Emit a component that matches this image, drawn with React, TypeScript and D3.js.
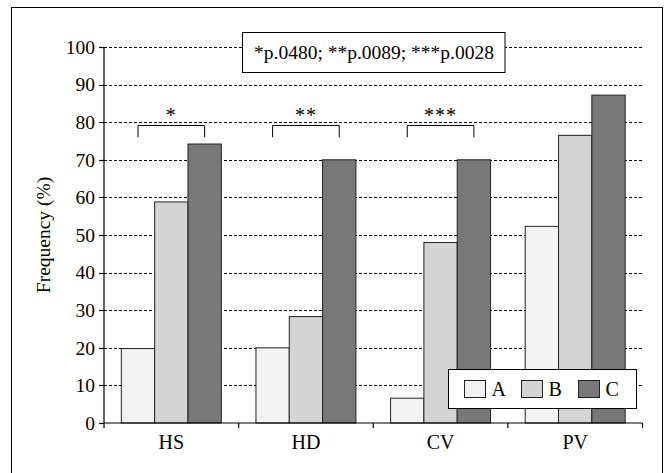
import React from "react";
import * as d3 from "d3";

const categories = ["HS", "HD", "CV", "PV"];
const seriesNames = ["A", "B", "C"];
const seriesA = [19.8, 20.0, 6.6, 52.3];
const seriesB = [58.8, 28.3, 48.0, 76.5];
const seriesC = [74.2, 70.0, 70.0, 87.2];
const yTicks = [0, 10, 20, 30, 40, 50, 60, 70, 80, 90, 100];
const colors = ["#f2f2f2", "#d4d4d4", "#787878"];
const brackets = [
  { cat: "HS", label: "*" },
  { cat: "HD", label: "**" },
  { cat: "CV", label: "***" },
];
const annotation = "*p.0480; **p.0089; ***p.0028";

const W = 666;
const H = 473;
const left = 104;
const right = 642.5;
const top = 47;
const bottom = 423;
const font = "'Liberation Serif', Tinos, 'Times New Roman', Times, 'DejaVu Serif', serif";

export default function App() {
  const x = d3.scaleBand<string>().domain(categories).range([left, right]).paddingInner(0).paddingOuter(0);
  const inner = d3.scaleBand<string>().domain(seriesNames).range([0, x.bandwidth()]).paddingInner(0).paddingOuter(0.52);
  const y = d3.scaleLinear().domain([0, 100]).range([bottom, top]);
  const series = [seriesA, seriesB, seriesC];
  const txt = { fontFamily: font };

  return (
    <svg width={W} height={H} style={{ position: "absolute", left: 0, top: 0, display: "block", fontFamily: font }}>
      <rect x={0} y={0} width={W} height={H} fill="#fff" />
      <rect x={11.5} y={7.5} width={651} height={480} fill="none" stroke="#000" strokeWidth={1} />
      {yTicks.filter((t) => t > 0).map((t) => (
        <line key={"g" + t} x1={left} x2={right} y1={Math.round(y(t)) + 0.5} y2={Math.round(y(t)) + 0.5}
          stroke="#000" strokeWidth={1} strokeDasharray="3,2" />
      ))}
      {categories.map((c, ci) => (
        <g key={c}>
          {series.map((s, si) => (
            <rect key={si}
              x={(x(c) as number) + (inner(seriesNames[si]) as number)}
              y={y(s[ci])}
              width={inner.bandwidth()}
              height={bottom - y(s[ci])}
              fill={colors[si]} stroke="#222" strokeWidth={1} />
          ))}
        </g>
      ))}
      <line x1={left} x2={left} y1={top} y2={bottom} stroke="#000" strokeWidth={1.2} />
      {yTicks.map((t) => (
        <g key={"t" + t}>
          <line x1={left - 5} x2={left} y1={Math.round(y(t)) + 0.5} y2={Math.round(y(t)) + 0.5} stroke="#000" strokeWidth={1.2} />
          <text x={left - 9} y={y(t)} dy="0.35em" textAnchor="end" fontSize={19.5} fill="#000" style={txt}>{t}</text>
        </g>
      ))}
      <line x1={left} x2={right} y1={bottom} y2={bottom} stroke="#000" strokeWidth={1.2} />
      {[...categories.map((c) => x(c) as number), right].map((v, i) => (
        <line key={"xt" + i} x1={v} x2={v} y1={bottom} y2={bottom + 5} stroke="#000" strokeWidth={1.2} />
      ))}
      {categories.map((c) => (
        <text key={"xl" + c} x={(x(c) as number) + x.bandwidth() / 2} y={449} textAnchor="middle" fontSize={20} fill="#000" style={txt}>{c}</text>
      ))}
      <text transform={`translate(50,${(top + bottom) / 2}) rotate(-90)`} textAnchor="middle" fontSize={19.5} fill="#000" style={txt}>Frequency (%)</text>
      {brackets.map((b) => {
        const x1 = (x(b.cat) as number) + (inner("A") as number) + inner.bandwidth() / 2;
        const x2 = (x(b.cat) as number) + (inner("C") as number) + inner.bandwidth() / 2;
        const yt = Math.round(y(79.3)) + 0.5;
        const yb = y(76);
        return (
          <g key={"b" + b.cat}>
            <path d={`M${x1},${yb}V${yt}H${x2}V${yb}`} fill="none" stroke="#000" strokeWidth={1} />
            <text x={(x1 + x2) / 2} y={y(79.3) - 3} textAnchor="middle" fontSize={20} fill="#000" letterSpacing={1} style={txt}>{b.label}</text>
          </g>
        );
      })}
      <rect x={242.5} y={32.5} width={262.5} height={40} fill="#fff" stroke="#000" strokeWidth={1} />
      <text x={374} y={59} textAnchor="middle" fontSize={19.5} fill="#000" style={txt}>{annotation}</text>
      <rect x={448.5} y={369.5} width={188} height={39} fill="#fff" stroke="#000" strokeWidth={1} />
      {seriesNames.map((n, i) => {
        const sx = 464.5 + i * 57;
        return (
          <g key={"lg" + n}>
            <rect x={sx} y={380.5} width={21} height={17} fill={colors[i]} stroke="#222" strokeWidth={1} />
            <text x={sx + 27} y={396} fontSize={20} fill="#000" style={txt}>{n}</text>
          </g>
        );
      })}
    </svg>
  );
}
